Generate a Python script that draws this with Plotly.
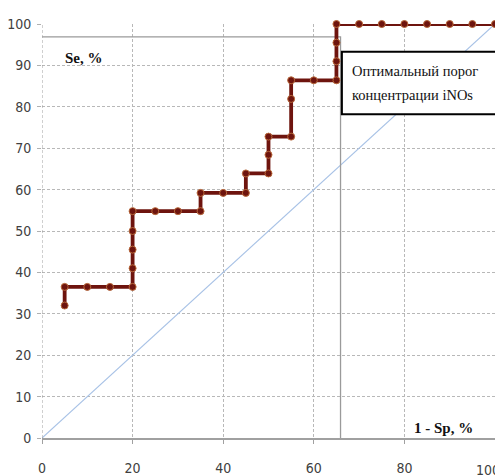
import plotly.graph_objects as go

# ROC curve data (1 - Sp, %  vs  Se, %)
fpr = [5, 5, 10, 15, 20, 20, 20, 20, 20, 25, 30, 35, 35, 40, 45, 45, 50, 50, 50, 55, 55, 55, 60, 65, 65, 65, 65, 70, 75, 80, 85, 90, 95, 100]
tpr = [32, 36.5, 36.5, 36.5, 36.5, 41, 45.5, 50, 54.8, 54.8, 54.8, 54.8, 59.2, 59.2, 59.2, 63.9, 63.9, 68.4, 72.8, 72.8, 81.9, 86.4, 86.4, 86.4, 91, 95.5, 100, 100, 100, 100, 100, 100, 100, 100]

diag_x = [0, 100]
diag_y = [0, 100]

# optimal threshold guide lines
opt_x = 65.9
opt_y = 96.9

tick_vals = [0, 20, 40, 60, 80, 100]
tick_text = ["0", "20", "40", "60", "80", ""]
last_tick_label = "100"
ytick_vals = [0, 10, 20, 30, 40, 50, 60, 70, 80, 90, 100]

fig = go.Figure()

fig.add_trace(go.Scatter(x=diag_x, y=diag_y, mode="lines",
                         line=dict(color="#a8c2e6", width=1.2),
                         hoverinfo="skip", showlegend=False))

fig.add_trace(go.Scatter(x=[0, opt_x, opt_x], y=[opt_y, opt_y, 0], mode="lines",
                         line=dict(color="#9a9a9a", width=1.3),
                         hoverinfo="skip", showlegend=False, cliponaxis=False))

fig.add_trace(go.Scatter(x=fpr, y=tpr, mode="lines+markers",
                         line=dict(color="#6e140e", width=3.8),
                         marker=dict(color="#6e140e", size=7,
                                     line=dict(color="#b8683a", width=1)),
                         cliponaxis=False, showlegend=False))

tick_font = dict(family="Liberation Sans Narrow, DejaVu Sans Condensed, DejaVu Sans", size=14, color="#404040")
serif = "Liberation Serif, Times New Roman, serif"

fig.update_layout(
    width=495, height=467,
    margin=dict(l=34, r=8, t=16, b=37),
    paper_bgcolor="white", plot_bgcolor="white",
    xaxis=dict(range=[0, 100], tickvals=tick_vals, ticktext=tick_text,
               showgrid=True, automargin=False,
               gridcolor="#b8b8b8", griddash="3px,2px", gridwidth=1,
               zeroline=False, showline=True, linecolor="#a0a0a0", linewidth=1.5,
               ticks="outside", ticklen=4, tickcolor="#a0a0a0",
               ticklabeloverflow="allow",
               ticklabelstandoff=12, tickfont=tick_font, fixedrange=True),
    yaxis=dict(range=[0, 100], tickvals=ytick_vals, showgrid=True, automargin=False,
               gridcolor="#b8b8b8", griddash="3px,2px", gridwidth=1,
               zeroline=False, showline=False,
               ticks="outside", ticklen=4, tickcolor="#b0b0b0",
               ticklabeloverflow="allow",
               ticklabelstandoff=3, tickfont=tick_font, fixedrange=True),
    shapes=[
        dict(type="line", xref="x", yref="y", x0=0, x1=0, y0=0, y1=100,
             line=dict(color="#a0a0a0", width=1, dash="3px,2px")),
        dict(type="rect", xref="x", yref="y", x0=66.2, x1=100.4, y0=78.2, y1=93.3,
             line=dict(color="black", width=2), fillcolor="white", layer="above"),
    ],
    annotations=[
        dict(x=tick_vals[-1], y=0, xref="x", yref="y", text=last_tick_label, showarrow=False,
             xanchor="right", yanchor="middle", xshift=7, yshift=-32, font=tick_font),
        dict(x=4.6, y=91.8, xref="x", yref="y", text="<b>Se, %</b>", showarrow=False,
             xanchor="left", yanchor="middle",
             font=dict(family=serif, size=15, color="#111")),
        dict(x=95.5, y=2.4, xref="x", yref="y", text="<b>1 - Sp, %</b>", showarrow=False,
             xanchor="right", yanchor="middle",
             font=dict(family=serif, size=15, color="#111")),
        dict(x=68.1, y=88.6, xref="x", yref="y", text="Оптимальный порог", showarrow=False,
             xanchor="left", yanchor="middle",
             font=dict(family=serif, size=14.5, color="#111")),
        dict(x=68.1, y=82.8, xref="x", yref="y", text="концентрации iNOs", showarrow=False,
             xanchor="left", yanchor="middle",
             font=dict(family=serif, size=14.5, color="#111")),
    ],
)

fig.write_html("out.html")
